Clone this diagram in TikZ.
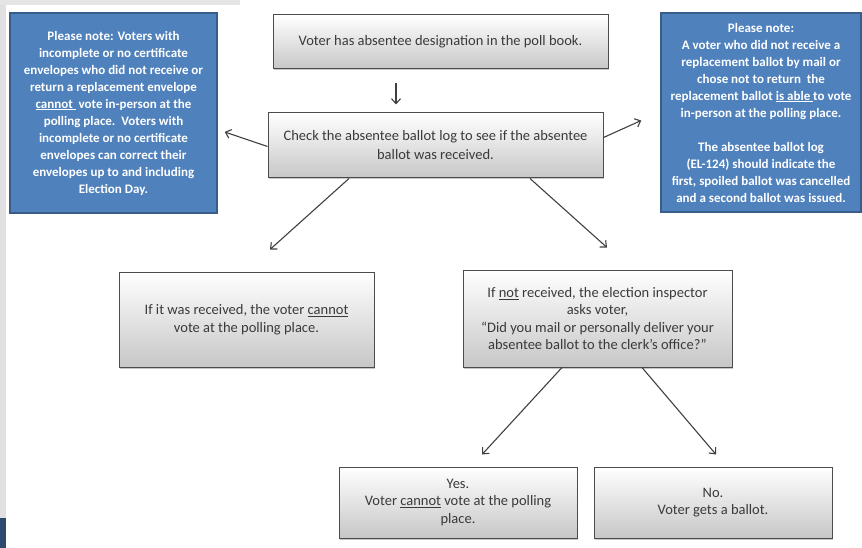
\documentclass[tikz,border=0pt]{standalone}
\usepackage{fontspec}
\setmainfont{Carlito}
\usetikzlibrary{shadows, arrows.meta}
\definecolor{noteblue}{HTML}{4F81BD}
\definecolor{noteedge}{HTML}{385D8A}
\definecolor{boxtext}{HTML}{3A3A3A}
\tikzstyle{process} = [rectangle, draw=black!70, line width=1pt, top color=white, bottom color=black!22, drop shadow={opacity=0.45, shadow xshift=1pt, shadow yshift=-1.5pt}, text=boxtext, align=center, font=\fontsize{14.5}{17.5}\selectfont, inner sep=0pt]
\tikzstyle{note} = [rectangle, draw=noteedge, line width=1.5pt, fill=noteblue, drop shadow={opacity=0.4, shadow xshift=1pt, shadow yshift=-1pt}, text=white, align=center, font=\bfseries\fontsize{13}{17}\selectfont, inner sep=0pt]
\tikzstyle{arrow} = [draw=black!75, line width=1.1pt, -{Straight Barb[length=5pt,width=9pt]}]

\begin{document}
\begin{tikzpicture}[x=1pt, y=-1pt]
        \useasboundingbox (0,0) rectangle (862,548);
        % screenshot edges
        \fill[black!12] (0,0) rectangle (6,548);
        \fill[black!10] (0,0) rectangle (240,5);
        \fill[noteedge!80!black] (0,518) rectangle (6,548);

        \node (top) [process, minimum width=335pt, minimum height=54pt] at (440.5,42) {Voter has absentee designation in the poll book.};
        \node (check) [process, minimum width=335pt, minimum height=65pt, font=\fontsize{14.5}{19}\selectfont] at (435.5,145.5) {Check the absentee ballot log to see if the absentee\\ballot was received.};
        \node (noteleft) [note, minimum width=207pt, minimum height=200pt] at (113.5,113) {Please note: Voters with\\incomplete or no certificate\\envelopes who did not receive or\\return a replacement envelope\\\underline{cannot\ } vote in-person at the\\polling place.\ \ Voters with\\incomplete or no certificate\\envelopes can correct their\\envelopes up to and including\\Election Day.};
        \node (noteright) [note, minimum width=200pt, minimum height=199pt] at (761,112.5) {Please note:\\A voter who did not receive a\\replacement ballot by mail or\\chose not to return\ \ the\\replacement ballot \underline{is able\ }to vote\\in-person at the polling place.\\[17pt]The absentee ballot log\\(EL-124) should indicate the\\first, spoiled ballot was cancelled\\and a second ballot was issued.};
        \node (received) [process, minimum width=255pt, minimum height=95pt] at (246.5,319.5) {If it was received, the voter \underline{cannot}\\vote at the polling place.};
        \node (notreceived) [process, minimum width=269pt, minimum height=97pt] at (597.5,318.5) {If \underline{not} received, the election inspector\\asks voter,\\``Did you mail or personally deliver your\\absentee ballot to the clerk's office?''};
        \node (yes) [process, minimum width=238pt, minimum height=71pt] at (458,502.5) {Yes.\\Voter \underline{cannot} vote at the polling\\place.};
        \node (no) [process, minimum width=238pt, minimum height=71pt] at (713,502.5) {No.\\Voter gets a ballot.};

        % Arrows
        \draw [arrow] ([xshift=-44.5pt,yshift=-14pt]top.south) -- ([xshift=-39.5pt,yshift=8pt]check.north);
        \draw [arrow] ([yshift=-1pt]check.west) -- ([xshift=7pt,yshift=-19pt]noteleft.east);
        \draw [arrow] ([yshift=8pt]check.east) -- ([xshift=-19pt,yshift=-8pt]noteright.west);
        \draw [arrow] ([xshift=-86.5pt]check.south) -- ([xshift=23.5pt,yshift=22pt]received.north);
        \draw [arrow] ([xshift=94.5pt]check.south) -- ([xshift=9.5pt,yshift=22pt]notreceived.north);
        \draw [arrow] ([xshift=-35.5pt]notreceived.south) -- ([xshift=24pt,yshift=12pt]yes.north);
        \draw [arrow] ([xshift=44.5pt]notreceived.south) -- ([xshift=3pt,yshift=12pt]no.north);
    \end{tikzpicture}
\end{document}
